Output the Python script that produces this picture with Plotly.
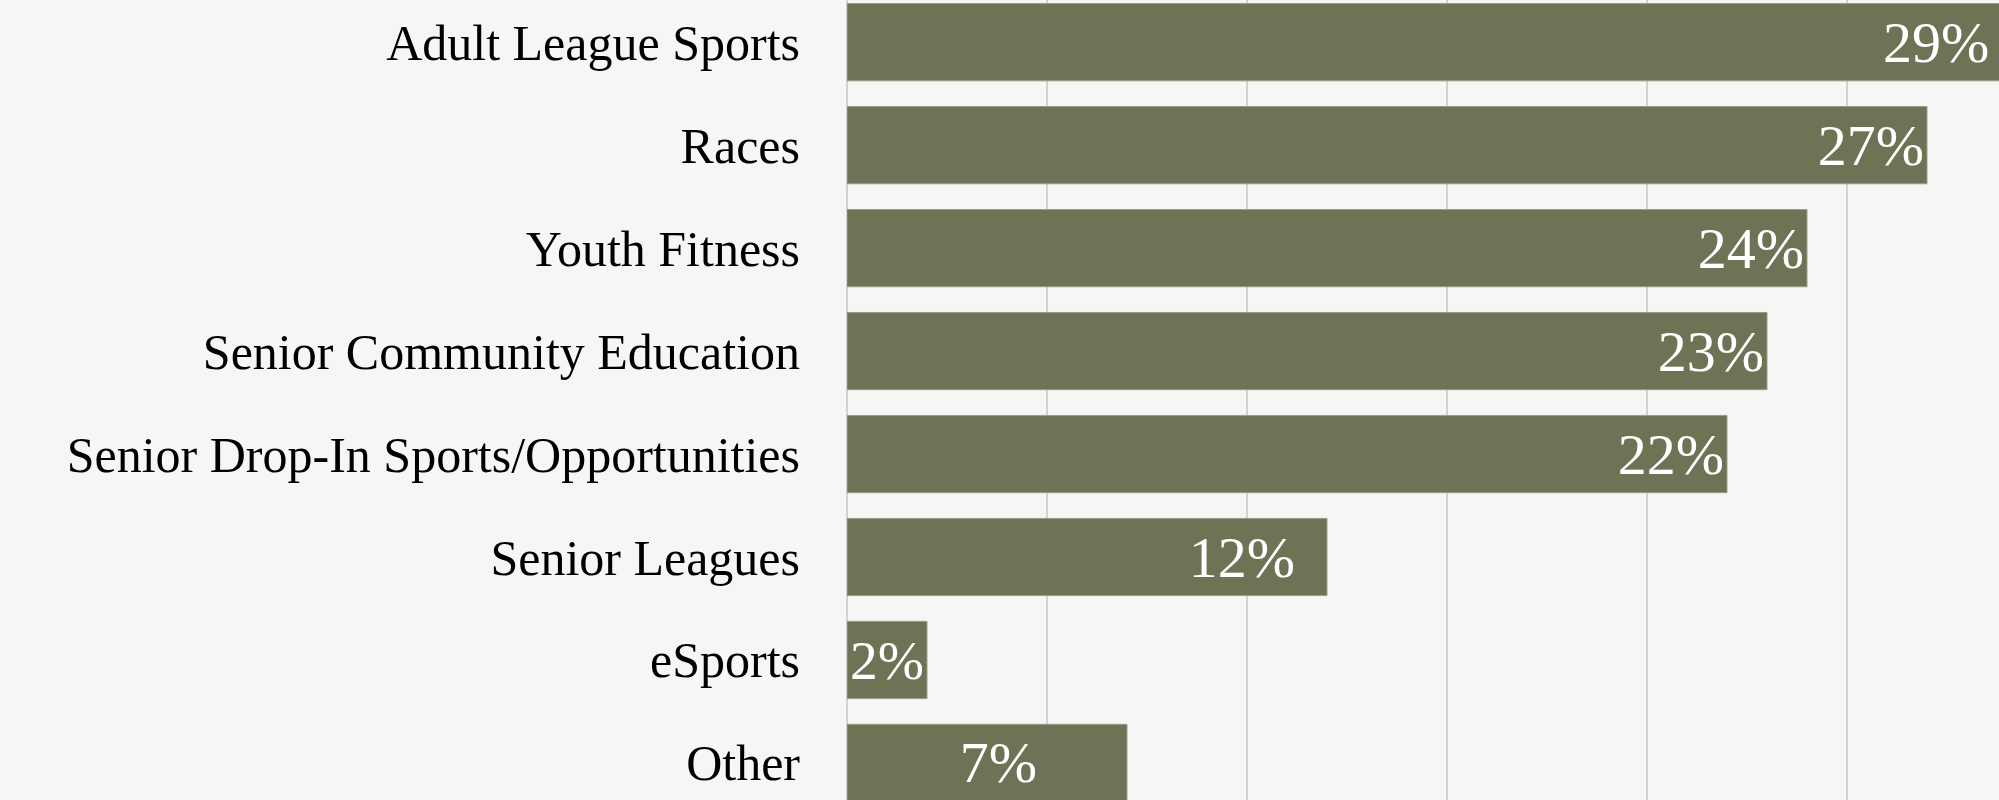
import plotly.graph_objects as go

categories = ["Adult League Sports", "Races", "Youth Fitness", "Senior Community Education",
              "Senior Drop-In Sports/Opportunities", "Senior Leagues", "eSports", "Other"]
values = [29, 27, 24, 23, 22, 12, 2, 7]
labels = ["29%", "27%", "24%", "23%", "22%", "12%\u00a0\u00a0",
          "2%", "7%\u00a0\u00a0\u00a0\u00a0\u00a0\u00a0"]

X_MAX = 28.8
BAR = "#6e7356"
FONT = "Liberation Serif"

# bars that run past the visible range get their label via an annotation at the range edge
inside_text = [t if v <= X_MAX else "" for t, v in zip(labels, values)]

fig = go.Figure(go.Bar(
    y=categories, x=values, orientation="h",
    marker=dict(color=BAR, line=dict(color="#9a9c8a", width=1)),
    text=inside_text, textposition="inside", insidetextanchor="end",
    textfont=dict(family=FONT, size=58, color="white"),
    width=0.75, cliponaxis=True, hoverinfo="skip",
))

for c, v, t in zip(categories, values, labels):
    if v > X_MAX:
        fig.add_annotation(x=X_MAX, y=c, xref="x", yref="y", text=t, showarrow=False,
                           xanchor="right", xshift=-8,
                           font=dict(family=FONT, size=58, color="white"))

fig.update_layout(
    width=1999, height=800,
    margin=dict(l=847, r=0, t=0, b=0),
    paper_bgcolor="#f6f6f5", plot_bgcolor="#f6f6f5",
    showlegend=False,
    font=dict(family=FONT, color="black"),
    xaxis=dict(range=[0, X_MAX], dtick=5, showgrid=True, gridcolor="#d2d2d2", gridwidth=2,
               showticklabels=False, zeroline=True, zerolinecolor="#d2d2d2", zerolinewidth=2),
    yaxis=dict(range=[7.36, -0.41], categoryorder="array", categoryarray=categories,
               tickfont=dict(family=FONT, size=50, color="black"), ticklabelstandoff=46,
               showgrid=False),
    uniformtext=dict(mode=False),
)

fig.write_html("out.html", config={"displayModeBar": False},
               post_script="document.body.style.margin='0';document.body.style.background='#f6f6f5';")
